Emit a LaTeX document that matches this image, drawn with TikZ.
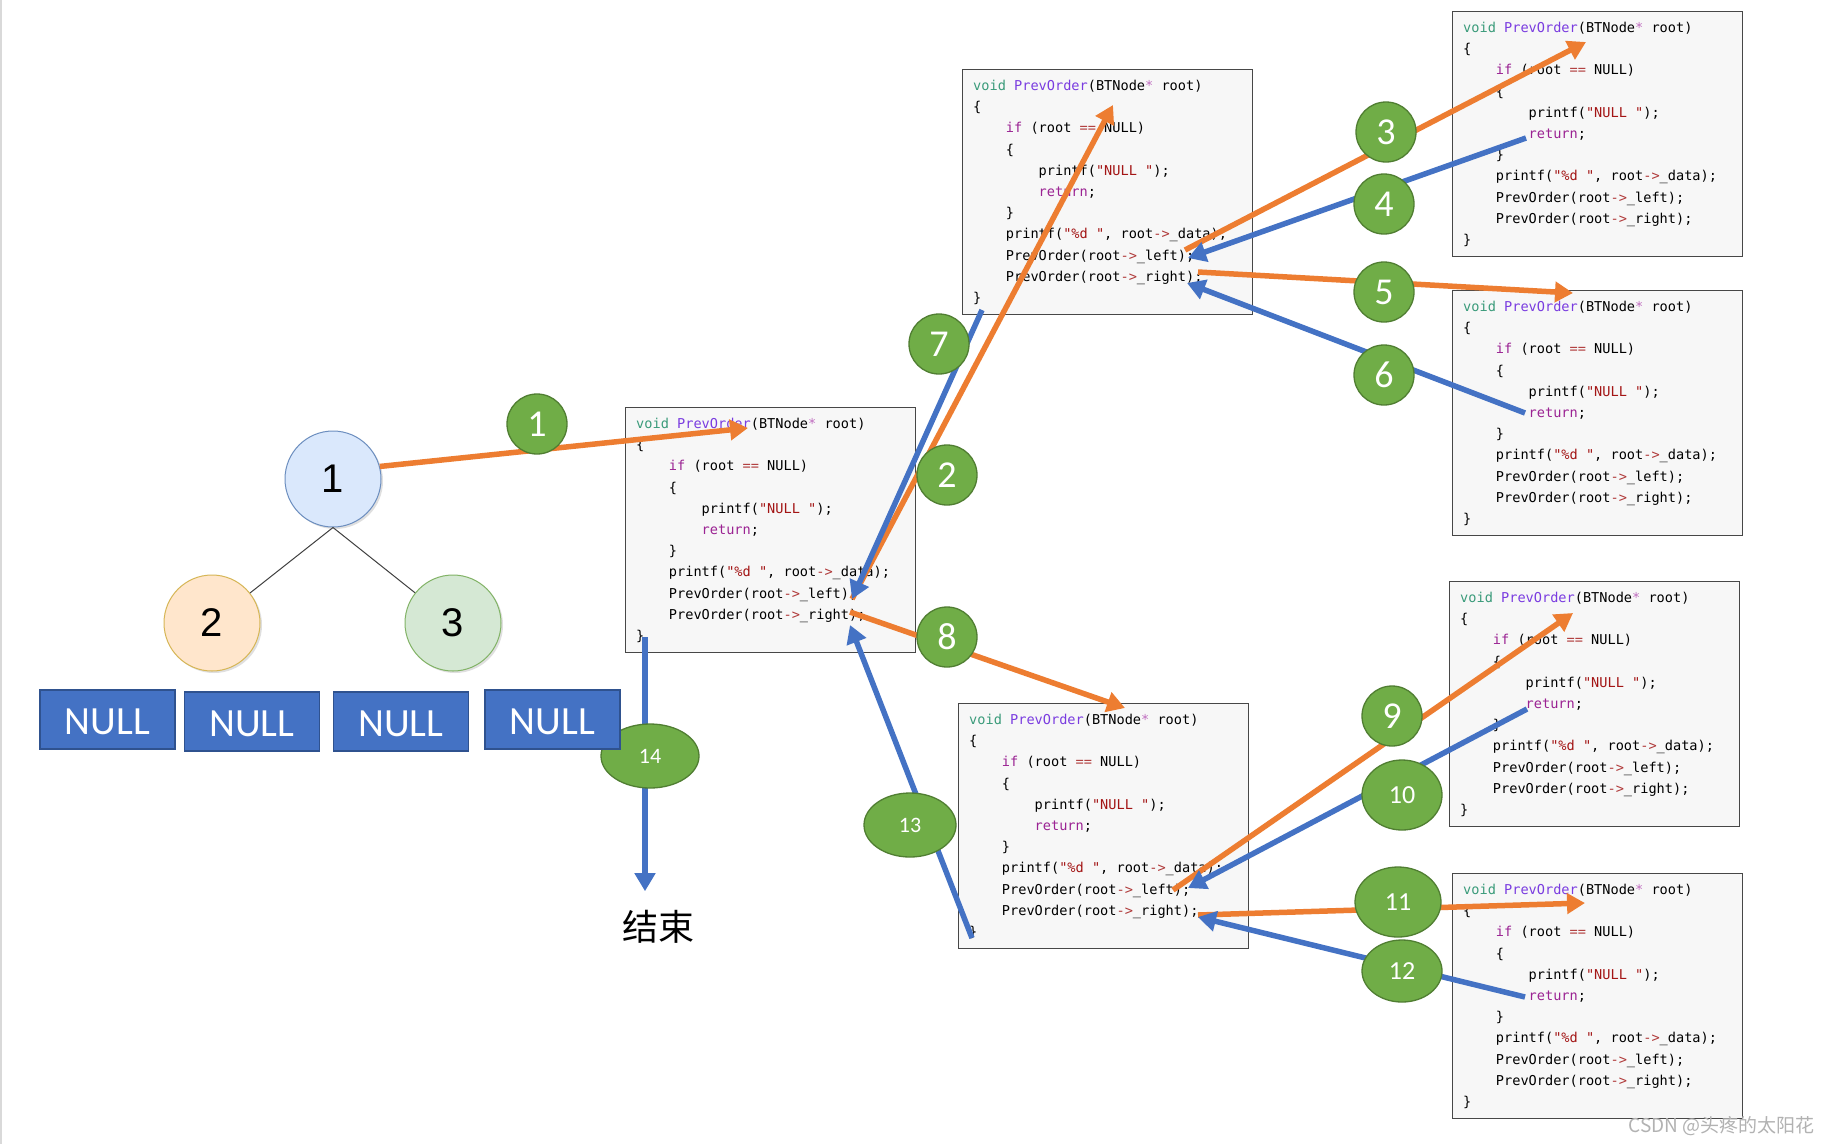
\documentclass[tikz,border=0pt]{standalone}
\usepackage{fontspec}
\setmainfont{Carlito}
\newfontfamily\codefont{DejaVu Sans Mono}
\newfontfamily\cjkfont{Noto Sans CJK SC}
\newfontfamily\treefont{Liberation Sans}
\usetikzlibrary{shapes.geometric, arrows.meta, positioning, calc, shadows}

\definecolor{callorange}{HTML}{ED7D31}
\definecolor{backblue}{HTML}{4472C4}
\definecolor{stepgreen}{HTML}{70AD47}
\definecolor{stepedge}{HTML}{507E32}
\definecolor{nullblue}{HTML}{4472C4}
\definecolor{nulledge}{HTML}{2F528F}
\definecolor{tonefill}{HTML}{DAE8FC}
\definecolor{toneedge}{HTML}{6C8EBF}
\definecolor{ttwofill}{HTML}{FFE6CC}
\definecolor{ttwoedge}{HTML}{D6B656}
\definecolor{tthreefill}{HTML}{D5E8D4}
\definecolor{tthreeedge}{HTML}{82B366}
\definecolor{cvoid}{HTML}{3A9B7A}
\definecolor{cfn}{HTML}{7A3CE0}
\definecolor{ckw}{HTML}{9B2393}
\definecolor{cstr}{HTML}{A31515}
\definecolor{cop}{HTML}{B03A3A}
\definecolor{cstar}{HTML}{C06EC0}

\newcommand\ind{\phantom{xxxx}}
\newcommand\codebody{%
\textcolor{cvoid}{void} \textcolor{cfn}{PrevOrder}(BTNode\textcolor{cstar}{*} root)\\
\{\\
\ind\textcolor{ckw}{if} (root \textcolor{cop}{==} NULL)\\
\ind\{\\
\ind\ind printf(\textcolor{cstr}{"NULL "});\\
\ind\ind\textcolor{ckw}{return};\\
\ind\}\\
\ind printf(\textcolor{cstr}{"\%d "}, root\textcolor{cop}{->}\_data);\\
\ind PrevOrder(root\textcolor{cop}{->}\_left);\\
\ind PrevOrder(root\textcolor{cop}{->}\_right);\\
\}}
\newcommand\nulltext{\raisebox{-2pt}[\height][\depth]{NULL}}

\begin{document}
\begin{tikzpicture}[x=1pt, y=-1pt,
    codebox/.style={draw=black!72, line width=1.3pt, fill=black!3, minimum width=290pt, minimum height=245pt, anchor=north west, inner sep=0pt},
    code/.style={anchor=north west, align=left, inner sep=0pt, font={\codefont\fontsize{13.6}{21.2}\selectfont}},
    tnode/.style={circle, minimum size=96pt, inner sep=0pt, line width=1pt, font={\treefont\fontsize{40}{40}\selectfont}, drop shadow={opacity=0.25, shadow xshift=2pt, shadow yshift=-2pt}},
    nullbox/.style={draw=nulledge, fill=nullblue, line width=1.5pt, minimum width=135pt, minimum height=59pt, inner sep=0pt, text=white, font={\fontsize{40}{40}\selectfont}},
    stepmark/.style={circle, draw=stepedge, fill=stepgreen, line width=1.3pt, minimum size=60pt, inner sep=0pt, text=white, font={\fontsize{38}{38}\selectfont}},
    stepoval/.style={ellipse, draw=stepedge, fill=stepgreen, line width=1.3pt, inner sep=0pt, text=white, font={\fontsize{26}{26}\selectfont}},
    call/.style={draw=callorange, line width=5.5pt, -{Triangle[length=18pt,width=20pt]}},
    back/.style={draw=backblue, line width=5.5pt, -{Triangle[length=18pt,width=20pt]}}
  ]
    \fill[white] (0,0) rectangle (1831,1144);
    \useasboundingbox (0,0) rectangle (1831,1144);
    \draw[black!15, line width=1.5pt] (1,0) -- (1,1144);

    % tree
    \node[tnode, draw=toneedge, fill=tonefill] (n1) at (333,479) {1};
    \node[tnode, draw=ttwoedge, fill=ttwofill] (n2) at (212,623) {2};
    \node[tnode, draw=tthreeedge, fill=tthreefill] (n3) at (453,623) {3};
    \draw[black!75, line width=1pt] (n1.south) -- (n2);
    \draw[black!75, line width=1pt] (n1.south) -- (n3);

    % code boxes
    \foreach \name/\pos in {A/{625,407}, B/{962,69}, C/{1452,11}, D/{1452,290}, E/{958,703}, F/{1449,581}, G/{1452,873}}{
      \node[codebox] (\name) at (\pos) {};
      \node[code] at ($(\name.north west)+(11,11)$) {\codebody};
    }

    \coordinate (A-head) at ($(A.north west)+(123,21)$);
    \coordinate (A-left) at ($(A.north west)+(227,192)$);
    \coordinate (A-rout) at ($(A.north west)+(225,205)$);
    \coordinate (A-rin)  at ($(A.north west)+(225,218)$);
    \coordinate (A-end)  at ($(A.north west)+(20,230)$);
    \coordinate (B-head) at ($(B.north west)+(151,36)$);
    \coordinate (B-lout) at ($(B.north west)+(223,181)$);
    \coordinate (B-lin)  at ($(B.north west)+(226,189)$);
    \coordinate (B-rout) at ($(B.north west)+(236,203)$);
    \coordinate (B-rin)  at ($(B.north west)+(225,214)$);
    \coordinate (B-end)  at ($(B.north west)+(20,241)$);
    \coordinate (C-head) at ($(C.north west)+(134,31)$);
    \coordinate (C-ret)  at ($(C.north west)+(74,127)$);
    \coordinate (D-head) at ($(D.north west)+(121,3)$);
    \coordinate (D-ret)  at ($(D.north west)+(73,123)$);
    \coordinate (E-head) at ($(E.north west)+(167,5)$);
    \coordinate (E-lout) at ($(E.north west)+(215,187)$);
    \coordinate (E-lin)  at ($(E.north west)+(230,185)$);
    \coordinate (E-rout) at ($(E.north west)+(240,212)$);
    \coordinate (E-rin)  at ($(E.north west)+(240,214)$);
    \coordinate (E-end)  at ($(E.north west)+(14,235)$);
    \coordinate (F-head) at ($(F.north west)+(124,32)$);
    \coordinate (F-ret)  at ($(F.north west)+(78,128)$);
    \coordinate (G-head) at ($(G.north west)+(133,30)$);
    \coordinate (G-ret)  at ($(G.north west)+(73,124)$);

    \node[font={\cjkfont\fontsize{36}{36}\selectfont}, inner sep=0pt] (over) at (658,927) {结束};
    \coordinate (over-top) at ($(A-end |- over.north)+(0,-19)$);

    % calls and returns
    \draw[call] (n1.15) -- (A-head);
    \draw[call] (A-left) -- (B-head);
    \draw[call] (B-lout) -- (C-head);
    \draw[back] (C-ret) -- (B-lin);
    \draw[call] (B-rout) -- (D-head);
    \draw[back] (D-ret) -- (B-rin);
    \draw[back] (B-end) -- (A-left);
    \draw[call] (A-rout) -- (E-head);
    \draw[call] (E-lout) -- (F-head);
    \draw[back] (F-ret) -- (E-lin);
    \draw[call] (E-rout) -- (G-head);
    \draw[back] (G-ret) -- (E-rin);
    \draw[back] (E-end) -- (A-rin);
    \draw[back] (A-end) -- (over-top);

    % step numbers
    \node[stepmark] (s1) at (537,424) {1};
    \node[stepmark] (s2) at (947,475) {2};
    \node[stepmark] (s3) at (1386,132) {3};
    \node[stepmark] (s4) at (1384,204) {4};
    \node[stepmark] (s5) at (1384,292) {5};
    \node[stepmark] (s6) at (1384,375) {6};
    \node[stepmark] (s7) at (939,344) {7};
    \node[stepmark] (s8) at (947,637) {8};
    \node[stepmark] (s9) at (1392,716) {9};
    \node[stepoval, minimum width=80pt, minimum height=70pt] (s10) at (1402,795) {10};
    \node[stepoval, minimum width=86pt, minimum height=70pt] (s11) at (1398,902) {11};
    \node[stepoval, minimum width=80pt, minimum height=62pt] (s12) at (1402,971) {12};
    \node[stepoval, minimum width=92pt, minimum height=64pt, font={\fontsize{22}{22}\selectfont}] (s13) at (910,825) {13};
    \node[stepoval, minimum width=98pt, minimum height=64pt, font={\fontsize{22}{22}\selectfont}] (s14) at (650,756) {14};

    % null leaves
    \node[nullbox] (null1) at (107.5,719.5) {\nulltext};
    \node[nullbox] (null2) at (252,721.5) {\nulltext};
    \node[nullbox] (null3) at (401,721.5) {\nulltext};
    \node[nullbox] (null4) at (552.5,719.5) {\nulltext};

    \node[font={\cjkfont\fontsize{19}{19}\selectfont}, text=black!30, anchor=east] (mark) at (1818,1126) {CSDN @头疼的太阳花};
\end{tikzpicture}
\end{document}
